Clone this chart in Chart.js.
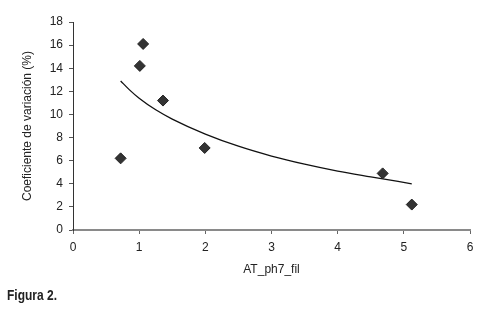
<!DOCTYPE html>
<html>
<head>
<meta charset="utf-8">
<script src="https://cdn.jsdelivr.net/npm/chart.js@4"></script>
<style>
  html, body { margin: 0; padding: 0; background: #fff; }
  #wrap { position: relative; width: 483px; height: 311px; }
  #fig { position: absolute; left: 7px; top: 286px; font-family: "Liberation Sans", Arial, sans-serif; font-weight: bold; font-size: 15px; line-height: 17px; color: #222; transform: scaleX(0.8); transform-origin: left top; white-space: nowrap; }
</style>
</head>
<body>
<div id="wrap">
  <canvas id="c" width="483" height="311"></canvas>
  <div id="fig">Figura 2.</div>
</div>
<script>
// Observed points
const xValues = [0.72, 1.01, 1.06, 1.36, 1.99, 4.68, 5.12];
const yValues = [6.2, 14.2, 16.1, 11.2, 7.1, 4.9, 2.2];
// Trend line, values
const trendX = [0.72, 0.85, 1.0, 1.25, 1.5, 2.0, 2.5, 3.0, 3.5, 4.0, 4.5, 5.12];
const trendY = [12.9, 12.15, 11.4, 10.4, 9.6, 8.3, 7.25, 6.4, 5.7, 5.1, 4.6, 4.0];
const xTicks = [0, 1, 2, 3, 4, 5, 6];
const yTicks = [0, 2, 4, 6, 8, 10, 12, 14, 16, 18];
const xTitle = "AT_ph7_fil";
const yTitle = "Coeficiente de variación (%)";

const pts = xValues.map((x, i) => ({x: x, y: yValues[i]}));
const trend = trendX.map((x, i) => ({x: x, y: trendY[i]}));
const font = {family: "'Liberation Sans', Arial, sans-serif", size: 12};

new Chart(document.getElementById('c'), {
  type: 'scatter',
  data: {
    datasets: [
      {
        data: trend, showLine: true, borderColor: '#111', borderWidth: 1.3,
        pointRadius: 0, cubicInterpolationMode: 'monotone', fill: false, order: 2
      },
      {
        data: pts, pointStyle: 'rectRot', pointRadius: 5.5,
        backgroundColor: '#333', borderColor: '#222', borderWidth: 1, order: 1
      }
    ]
  },
  options: {
    responsive: false, animation: false, devicePixelRatio: 1,
    layout: {padding: {left: 0, right: 13, top: 22, bottom: 30}},
    plugins: {legend: {display: false}, tooltip: {enabled: false}},
    scales: {
      x: {
        type: 'linear', min: 0, max: 6,
        afterBuildTicks: s => { s.ticks = xTicks.map(v => ({value: v})); },
        afterFit: s => { s.height = 51; },
        grid: {drawOnChartArea: false, drawTicks: true, tickLength: 4, color: '#666'},
        border: {display: true, color: '#8a8a8a', width: 2},
        ticks: {color: '#222', font: font, padding: 6, maxRotation: 0},
        title: {display: true, text: xTitle, color: '#222', font: font, padding: {top: 0, bottom: 4}}
      },
      y: {
        type: 'linear', min: 0, max: 18,
        afterBuildTicks: s => { s.ticks = yTicks.map(v => ({value: v})); },
        afterFit: s => { s.width = 73; },
        grid: {drawOnChartArea: false, drawTicks: true, tickLength: 4, color: '#555'},
        border: {display: true, color: '#333', width: 1},
        ticks: {color: '#222', font: font, padding: 6},
        title: {display: true, text: yTitle, color: '#222', font: font, padding: {top: 20, bottom: 0}}
      }
    }
  }
});
</script>
</body>
</html>
